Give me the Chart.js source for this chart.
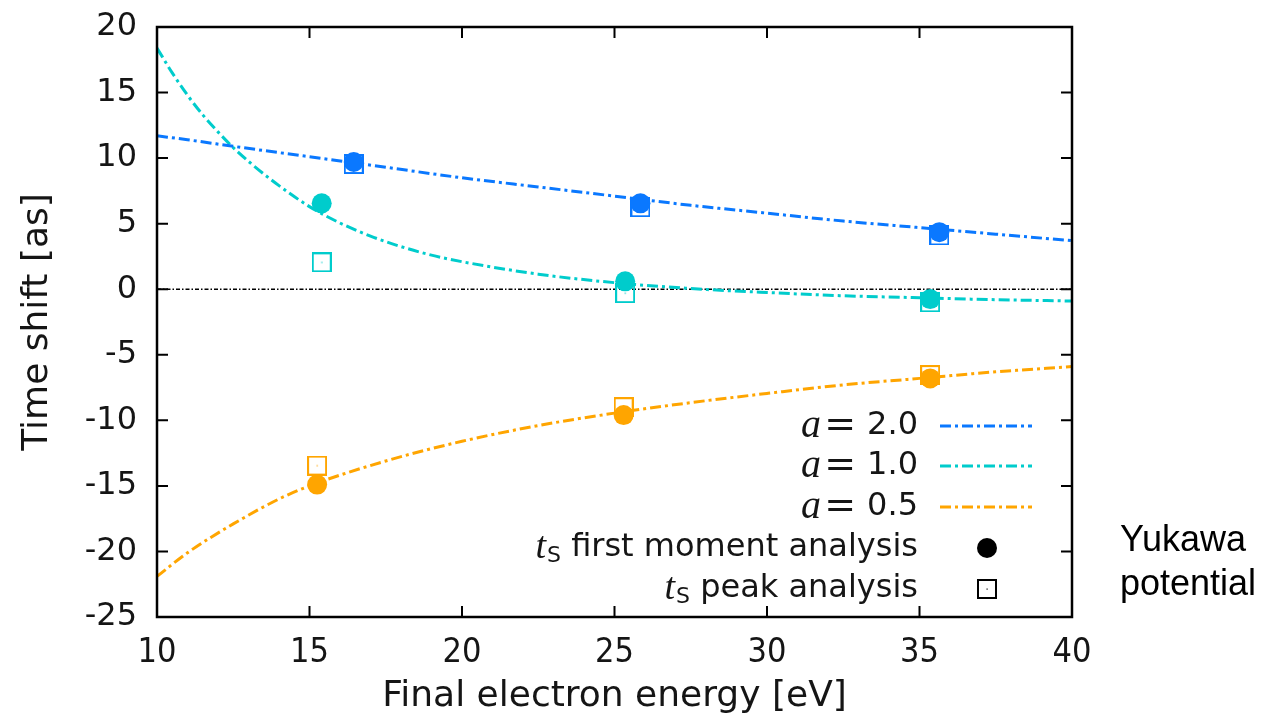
<!DOCTYPE html>
<html>
<head>
<meta charset="utf-8">
<script src="https://cdn.jsdelivr.net/npm/chart.js@4.4.0/dist/chart.umd.min.js"></script>
<style>
  html, body { margin: 0; padding: 0; background: #fff; }
  #wrap { width: 1264px; height: 720px; position: relative; }
</style>
</head>
<body>
<div id="wrap"><canvas id="c" width="1264" height="720"></canvas></div>
<script>
// x ticks / y ticks
const xTicks = [10, 15, 20, 25, 30, 35, 40];
const yTicks = [20, 15, 10, 5, 0, -5, -10, -15, -20, -25];

// fitted curves
const curveE2 = [10, 11, 12.5, 15, 17.5, 20, 22.5, 25, 27.5, 30, 32.5, 35, 37.5, 40];
const curveT2 = [11.7, 11.4, 10.9, 10.1, 9.3, 8.5, 7.8, 7.1, 6.4, 5.8, 5.2, 4.7, 4.2, 3.7];

const curveE1 = [10, 10.5, 11, 11.5, 12, 12.5, 13, 14, 15, 16, 17, 18, 19, 20, 22.5, 25, 27.5, 30, 32.5, 35, 37.5, 40];
const curveT1 = [18.4, 16.5, 14.8, 13.3, 12.0, 10.8, 9.75, 7.9, 6.3, 5.05, 4.05, 3.25, 2.6, 2.1, 1.15, 0.5, 0.05, -0.25, -0.5, -0.65, -0.8, -0.9];

const curveE05 = [10, 11, 12.5, 14, 15, 17.5, 20, 22.5, 25, 27.5, 30, 32.5, 35, 37.5, 40];
const curveT05 = [-21.9, -20.1, -17.9, -16.0, -15.0, -13.1, -11.6, -10.4, -9.45, -8.65, -7.95, -7.3, -6.8, -6.3, -5.9];

// t_S first moment analysis (circles)
const firstE2 = [16.45, 25.85, 35.65];
const firstT2 = [9.7, 6.55, 4.35];
const firstE1 = [15.4, 25.35, 35.35];
const firstT1 = [6.55, 0.6, -0.75];
const firstE05 = [15.25, 25.3, 35.35];
const firstT05 = [-14.9, -9.6, -6.8];

// t_S peak analysis (squares)
const peakE2 = [16.45, 25.85, 35.65];
const peakT2 = [9.55, 6.25, 4.1];
const peakE1 = [15.4, 25.35, 35.35];
const peakT1 = [2.05, -0.3, -1.0];
const peakE05 = [15.25, 25.3, 35.35];
const peakT05 = [-13.45, -9.0, -6.55];

const BLUE = '#0a78ff';
const CYAN = '#00cccc';
const ORANGE = '#ffa500';
const DASH = [11, 4, 3, 4];

const pts = (xs, ys) => xs.map((x, i) => ({ x: x, y: ys[i] }));

function squareMark(color) {
  const cv = document.createElement('canvas');
  cv.width = 20; cv.height = 20;
  const g = cv.getContext('2d');
  g.strokeStyle = color;
  g.lineWidth = 2;
  g.strokeRect(1, 1, 18, 18);
  g.fillStyle = color;
  g.fillRect(9.5, 9.5, 1.2, 1.2);
  return cv;
}

function curve(xs, ys, color) {
  return {
    data: pts(xs, ys), showLine: true, borderColor: color, borderWidth: 3,
    borderDash: DASH, pointRadius: 0, cubicInterpolationMode: 'monotone', order: 5
  };
}
function circles(xs, ys, color) {
  return {
    data: pts(xs, ys), showLine: false, pointStyle: 'circle', pointRadius: 10,
    backgroundColor: color, borderColor: color, borderWidth: 0, order: 1
  };
}
function squares(xs, ys, color) {
  return {
    data: pts(xs, ys), showLine: false, pointStyle: squareMark(color), pointRadius: 10,
    order: 2
  };
}

// frame, inward ticks, legend and side note
const extras = {
  id: 'extras',
  afterDraw(chart) {
    const ctx = chart.ctx;
    const a = chart.chartArea;
    const xs = chart.scales.x, ys = chart.scales.y;
    ctx.save();
    ctx.strokeStyle = '#000';
    ctx.lineWidth = 2.5;
    ctx.strokeRect(a.left, a.top, a.right - a.left, a.bottom - a.top);
    ctx.lineWidth = 2;
    ctx.beginPath();
    xTicks.forEach(v => {
      const p = xs.getPixelForValue(v);
      ctx.moveTo(p, a.bottom); ctx.lineTo(p, a.bottom - 11);
      ctx.moveTo(p, a.top); ctx.lineTo(p, a.top + 11);
    });
    yTicks.forEach(v => {
      const p = ys.getPixelForValue(v);
      ctx.moveTo(a.left, p); ctx.lineTo(a.left + 11, p);
      ctx.moveTo(a.right, p); ctx.lineTo(a.right - 11, p);
    });
    ctx.stroke();

    // legend
    const tx = 918, lx0 = 940, lx1 = 1032, mx = 987;
    const rows = [426, 466, 507, 548, 589];
    const sans = '32px "DejaVu Sans"';
    ctx.fillStyle = '#151515';
    ctx.textBaseline = 'middle';
    const alphas = [['2.0', BLUE], ['1.0', CYAN], ['0.5', ORANGE]];
    alphas.forEach((r, i) => {
      const y = rows[i];
      ctx.textAlign = 'right';
      ctx.font = sans;
      ctx.fillText(r[0], tx, y);
      ctx.font = '38px "DejaVu Sans"';
      ctx.fillText('=', 856, y);
      ctx.font = 'italic 40px "Liberation Serif"';
      ctx.fillText('a', 821, y);
      ctx.strokeStyle = r[1];
      ctx.lineWidth = 3;
      ctx.setLineDash(DASH);
      ctx.beginPath();
      ctx.moveTo(lx0, y); ctx.lineTo(lx1, y);
      ctx.stroke();
      ctx.setLineDash([]);
    });
    const labs = [' first moment analysis', ' peak analysis'];
    labs.forEach((s, i) => {
      const y = rows[3 + i];
      ctx.textAlign = 'right';
      ctx.font = sans;
      ctx.fillText(s, tx, y);
      let x = tx - ctx.measureText(s).width;
      ctx.font = '22px "DejaVu Sans"';
      ctx.fillText('S', x, y + 8);
      x -= ctx.measureText('S').width + 1;
      ctx.font = 'italic 38px "Liberation Serif"';
      ctx.fillText('t', x, y);
    });
    ctx.fillStyle = '#000';
    ctx.beginPath();
    ctx.arc(mx, rows[3], 10, 0, Math.PI * 2);
    ctx.fill();
    ctx.drawImage(squareMark('#000'), mx - 10, rows[4] - 10);

    // side note
    ctx.textAlign = 'left';
    ctx.font = '36px "Liberation Sans"';
    ctx.fillStyle = '#000';
    ctx.fillText('Yukawa', 1120, 541);
    ctx.fillText('potential', 1120, 585);
    ctx.restore();
  }
};

new Chart(document.getElementById('c'), {
  type: 'scatter',
  data: {
    datasets: [
      curve(curveE2, curveT2, BLUE),
      curve(curveE1, curveT1, CYAN),
      curve(curveE05, curveT05, ORANGE),
      {
        data: pts([10, 40], [0, 0]), showLine: true, borderColor: '#000', borderWidth: 1.5,
        borderDash: [4, 2, 1.5, 2], pointRadius: 0, order: 6
      },
      squares(peakE2, peakT2, BLUE),
      squares(peakE1, peakT1, CYAN),
      squares(peakE05, peakT05, ORANGE),
      circles(firstE2, firstT2, BLUE),
      circles(firstE1, firstT1, CYAN),
      circles(firstE05, firstT05, ORANGE)
    ]
  },
  options: {
    responsive: false,
    animation: false,
    layout: { padding: { top: 27, right: 192, left: 0, bottom: 0 } },
    plugins: { legend: { display: false }, tooltip: { enabled: false } },
    scales: {
      x: {
        type: 'linear', min: 10, max: 40,
        afterBuildTicks: s => { s.ticks = xTicks.map(v => ({ value: v })); },
        afterFit: s => { s.height = 103; s.paddingLeft = 0; s.paddingRight = 0; },
        grid: { display: false, drawTicks: false },
        border: { display: false },
        ticks: { color: '#151515', padding: 16, maxRotation: 0, font: { family: 'DejaVu Sans Condensed, DejaVu Sans', size: 34 } },
        title: { display: true, text: 'Final electron energy [eV]', color: '#151515', padding: { top: 0, bottom: 2 }, font: { family: 'DejaVu Sans', size: 36 } }
      },
      y: {
        type: 'linear', min: -25, max: 20,
        afterBuildTicks: s => { s.ticks = yTicks.map(v => ({ value: v })); },
        afterFit: s => { s.width = 157; s.paddingTop = 0; s.paddingBottom = 0; },
        grid: { display: false, drawTicks: false },
        border: { display: false },
        ticks: { color: '#151515', padding: 20, font: { family: 'DejaVu Sans', size: 32 } },
        title: { display: true, text: 'Time shift [as]', color: '#151515', padding: { top: 16, bottom: 0 }, font: { family: 'DejaVu Sans', size: 36 } }
      }
    }
  },
  plugins: [extras]
});
</script>
</body>
</html>
